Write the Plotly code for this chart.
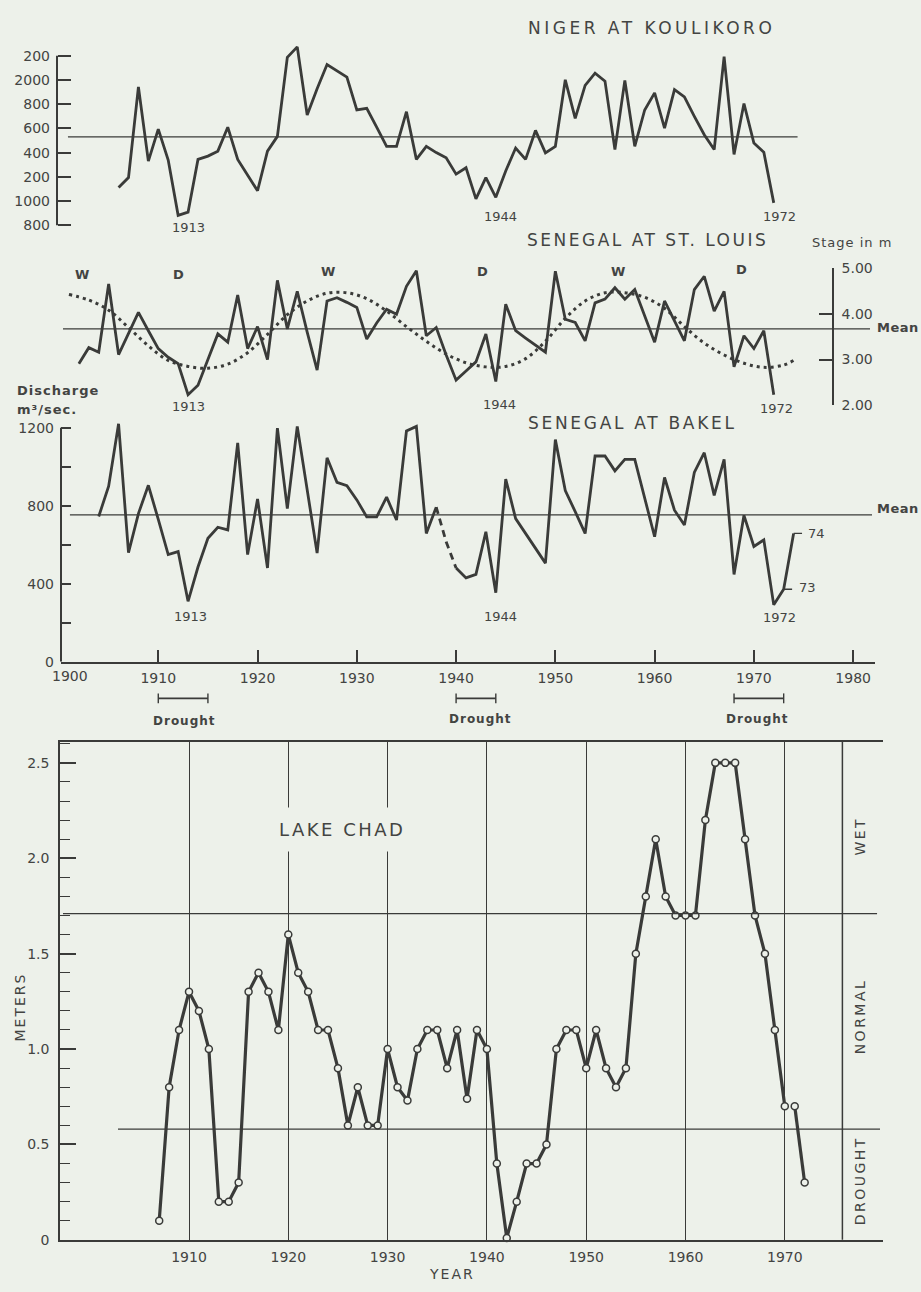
import plotly.graph_objects as go

W, H = 921, 1292
BG = "#edf1ea"
INK = "#3a3b39"
TXT = "#434442"
FONT = "DejaVu Sans"

# ---------------- data ----------------
niger_years = list(range(1906, 1973))
niger_flow = [1112, 1194, 1942, 1330, 1594, 1338, 882, 908, 1344, 1371,
              1412, 1610, 1344, 1215, 1085, 1412, 1534, 2186, 2273, 1711,
              1928, 2127, 2075, 2023, 1752, 1765, 1610, 1452, 1452, 1738,
              1344, 1452, 1400, 1357, 1222, 1275, 1018, 1194, 1031, 1248,
              1438, 1344, 1583, 1398, 1452, 2001, 1683, 1955, 2056, 1990,
              1425, 1996, 1452, 1752, 1893, 1602, 1920, 1860, 1700, 1548,
              1425, 2192, 1385, 1805, 1479, 1403, 985]
niger_mean = 1530
niger_tickvals = [800, 1000, 1200, 1400, 1600, 1800, 2000, 2200]
niger_ticktext = ["800", "1000", "200", "400", "600", "800", "2000", "200"]

stlouis_years = list(range(1902, 1973))
stlouis_stage = [2.91, 3.26, 3.16, 4.65, 3.11, 3.57, 4.03, 3.63, 3.24, 3.05,
                 2.91, 2.23, 2.44, 3.00, 3.56, 3.38, 4.41, 3.24, 3.72, 3.00,
                 4.73, 3.67, 4.49, 3.60, 2.77, 4.28, 4.35, 4.25, 4.14, 3.45,
                 3.80, 4.10, 3.99, 4.60, 4.94, 3.52, 3.70, 3.10, 2.55, 2.75,
                 2.95, 3.56, 2.52, 4.21, 3.63, 3.47, 3.32, 3.16, 4.93, 3.88,
                 3.81, 3.41, 4.24, 4.32, 4.57, 4.32, 4.53, 3.95, 3.38, 4.28,
                 3.85, 3.41, 4.53, 4.82, 4.06, 4.49, 2.84, 3.52, 3.24, 3.63,
                 2.23]
stlouis_mean = 3.67
trend_years = [1901, 1903, 1905, 1907, 1909, 1911, 1913, 1915, 1917, 1919,
               1921, 1923, 1925, 1927, 1929, 1931, 1933, 1935, 1937, 1939,
               1941, 1943, 1945, 1947, 1949, 1951, 1953, 1955, 1957, 1959,
               1961, 1963, 1965, 1967, 1969, 1971, 1973, 1974]
trend_stage = [4.42, 4.30, 4.08, 3.70, 3.30, 2.98, 2.85, 2.81, 2.90, 3.15,
               3.55, 3.98, 4.28, 4.45, 4.46, 4.33, 4.06, 3.72, 3.40, 3.12,
               2.93, 2.84, 2.85, 3.02, 3.40, 3.90, 4.28, 4.46, 4.46, 4.36,
               4.12, 3.72, 3.36, 3.10, 2.92, 2.83, 2.88, 2.98]
stlouis_ticks = [2, 3, 4, 5]
stlouis_ticktext = ["2.00", "3.00", "4.00", "5.00"]
wd_labels = ["W", "D", "W", "D", "W", "D"]
wd_years = [1902.3, 1912.0, 1927.1, 1942.7, 1956.3, 1968.8]

bakel_years = list(range(1904, 1975))
bakel_flow = [745, 900, 1220, 560, 760, 905, 730, 550, 565, 310,
              486, 633, 690, 676, 1122, 550, 835, 481, 1198, 785,
              1207, 880, 557, 1046, 920, 903, 830, 743, 743, 844,
              727, 1183, 1207, 658, 793, 615, 481, 430, 448, 667,
              354, 937, 734, 660, 583, 506, 1139, 878, 770, 658,
              1055, 1055, 979, 1038, 1038, 840, 641, 945, 777, 701,
              971, 1072, 853, 1038, 448, 751, 591, 625, 292, 372,
              658]
bakel_gap = (1938, 1940)          # estimated stretch, drawn dashed
bakel_mean = 753
bakel_tickvals = [0, 400, 800, 1200]
bakel_minor_step = 200

year_ticks = [1910, 1920, 1930, 1940, 1950, 1960, 1970, 1980]
drought_start = [1910, 1940, 1968]
drought_end = [1915, 1944, 1973]

chad_years = list(range(1907, 1973))
chad_level = [0.1, 0.8, 1.1, 1.3, 1.2, 1.0, 0.2, 0.2, 0.3, 1.3,
              1.4, 1.3, 1.1, 1.6, 1.4, 1.3, 1.1, 1.1, 0.9, 0.6,
              0.8, 0.6, 0.6, 1.0, 0.8, 0.73, 1.0, 1.1, 1.1, 0.9,
              1.1, 0.74, 1.1, 1.0, 0.4, 0.01, 0.2, 0.4, 0.4, 0.5,
              1.0, 1.1, 1.1, 0.9, 1.1, 0.9, 0.8, 0.9, 1.5, 1.8,
              2.1, 1.8, 1.7, 1.7, 1.7, 2.2, 2.5, 2.5, 2.5, 2.1,
              1.7, 1.5, 1.1, 0.7, 0.7, 0.3]
chad_break_after = 1970
chad_wet = 1.71
chad_drought = 0.58
chad_tickvals = [0, 0.5, 1.0, 1.5, 2.0, 2.5]
chad_ticktext = ["0", "0.5", "1.0", "1.5", "2.0", "2.5"]
chad_year_ticks = [1910, 1920, 1930, 1940, 1950, 1960, 1970]
chad_right_edge = 1975.8


def px(x):
    return x / W


def py(y):
    return 1 - y / H


fig = go.Figure()
line_style = dict(color=INK, width=2.8)

# Niger at Koulikoro
fig.add_trace(go.Scatter(x=niger_years, y=niger_flow, xaxis="x", yaxis="y2",
                         mode="lines", line=line_style, hoverinfo="skip"))
# Senegal at St. Louis
fig.add_trace(go.Scatter(x=trend_years, y=trend_stage, xaxis="x", yaxis="y3",
                         mode="lines", hoverinfo="skip",
                         line=dict(color=INK, width=3, dash="3px,4px", shape="spline")))
fig.add_trace(go.Scatter(x=stlouis_years, y=stlouis_stage, xaxis="x", yaxis="y3",
                         mode="lines", line=line_style, hoverinfo="skip"))
# Senegal at Bakel
g0 = bakel_years.index(bakel_gap[0])
g1 = bakel_years.index(bakel_gap[1])
fig.add_trace(go.Scatter(x=bakel_years[:g0 + 1], y=bakel_flow[:g0 + 1], xaxis="x", yaxis="y",
                         mode="lines", line=line_style, hoverinfo="skip"))
fig.add_trace(go.Scatter(x=bakel_years[g0:g1 + 1], y=bakel_flow[g0:g1 + 1], xaxis="x", yaxis="y",
                         mode="lines", hoverinfo="skip",
                         line=dict(color=INK, width=2.8, dash="7px,5px")))
fig.add_trace(go.Scatter(x=bakel_years[g1:], y=bakel_flow[g1:], xaxis="x", yaxis="y",
                         mode="lines", line=line_style, hoverinfo="skip"))

# Lake Chad
cb = chad_years.index(chad_break_after) + 1
for xs, ys in ((chad_years[:cb], chad_level[:cb]), (chad_years[cb:], chad_level[cb:])):
    fig.add_trace(go.Scatter(x=xs, y=ys, xaxis="x2", yaxis="y4", mode="lines+markers",
                             hoverinfo="skip", cliponaxis=False,
                             line=dict(color=INK, width=3.2),
                             marker=dict(symbol="circle", size=7, color=BG,
                                         line=dict(color=INK, width=1.5))))

tickfont = dict(family=FONT, size=14, color=TXT)

fig.update_layout(
    width=W, height=H,
    margin=dict(l=0, r=0, t=0, b=0),
    paper_bgcolor=BG, plot_bgcolor="rgba(0,0,0,0)",
    showlegend=False,
    font=dict(family=FONT, color=TXT),
    xaxis=dict(domain=[px(61), px(875)], range=[1900.2, 1982.2], anchor="y",
               showline=True, linecolor=INK, linewidth=2, ticks="inside", ticklen=12,
               tickwidth=1.6, tickcolor=INK, tickvals=year_ticks,
               ticktext=[str(v) for v in year_ticks], tickfont=tickfont,
               showgrid=False, zeroline=False, ticklabelstandoff=2),
    yaxis=dict(domain=[py(662), py(415)], range=[0, 1250.6], anchor="x",
               showline=False, ticks="inside", ticklen=10, tickwidth=1.6, tickcolor=INK,
               tickvals=bakel_tickvals, ticktext=[str(v) for v in bakel_tickvals],
               tickfont=tickfont, showgrid=False, zeroline=False, ticklabelstandoff=6,
               minor=dict(tick0=0, dtick=bakel_minor_step, ticks="inside", ticklen=10,
                          tickwidth=1.6, tickcolor=INK, showgrid=False)),
    yaxis2=dict(domain=[py(225), py(30)], range=[759.2, 2349.3], anchor="free",
                position=px(57), showline=False, ticks="inside", ticklen=13,
                tickwidth=1.6, tickcolor=INK, tickvals=niger_tickvals,
                ticktext=niger_ticktext, tickfont=tickfont, showgrid=False,
                zeroline=False, ticklabelstandoff=7),
    yaxis3=dict(domain=[py(402.3), py(263.3)], range=[2, 5], anchor="free",
                position=px(833), side="right", showline=True, linecolor=INK,
                linewidth=1.6, ticks="inside", ticklen=13, tickwidth=1.6, tickcolor=INK,
                tickvals=stlouis_ticks, ticktext=stlouis_ticktext, tickfont=tickfont,
                showgrid=False, zeroline=False, ticklabelstandoff=5),
    xaxis2=dict(domain=[px(60), px(883)], range=[1897.009, 1979.889], anchor="y4",
                showline=True, mirror=True, linecolor=INK, linewidth=1.6, ticks="",
                tickvals=chad_year_ticks, ticktext=[str(v) for v in chad_year_ticks],
                tickfont=tickfont, showgrid=True, gridcolor=INK, gridwidth=1.4,
                zeroline=False, ticklabelstandoff=4),
    yaxis4=dict(domain=[py(1247.3), py(742.7)], range=[0, 2.612], anchor="x2",
                showline=True, linecolor=INK, linewidth=1.6, ticks="inside", ticklen=16,
                tickwidth=1.5, tickcolor=INK, tickvals=chad_tickvals,
                ticktext=chad_ticktext, tickfont=tickfont, showgrid=False,
                zeroline=False, ticklabelstandoff=6,
                minor=dict(tick0=0, dtick=0.1, ticks="inside", ticklen=10,
                           tickwidth=1.3, tickcolor=INK, showgrid=False)),
)

shapes = []
thin = dict(color=INK, width=1.3)
# mean lines
shapes.append(dict(type="line", xref="x", yref="y2", x0=1900.9, x1=1974.4,
                   y0=niger_mean, y1=niger_mean, line=thin))
shapes.append(dict(type="line", xref="x", yref="y3", x0=1900.4, x1=1981.7,
                   y0=stlouis_mean, y1=stlouis_mean, line=thin))
shapes.append(dict(type="line", xref="x", yref="y", x0=1901.1, x1=1981.9,
                   y0=bakel_mean, y1=bakel_mean, line=thin))
# left axis lines (drawn as shapes so peaks above the top tick are not clipped)
shapes.append(dict(type="line", xref="paper", yref="y2", x0=px(57), x1=px(57),
                   y0=niger_tickvals[0], y1=niger_tickvals[-1], line=dict(color=INK, width=2)))
shapes.append(dict(type="line", xref="paper", yref="y", x0=px(61), x1=px(61),
                   y0=bakel_tickvals[0], y1=bakel_tickvals[-1], line=dict(color=INK, width=2)))
# 73 / 74 leader lines
for yr in (1973, 1974):
    v = bakel_flow[bakel_years.index(yr)]
    shapes.append(dict(type="line", xref="x", yref="y", x0=yr, x1=yr + 0.85,
                       y0=v, y1=v, line=dict(color=INK, width=1.3)))
# drought bars
for s, e in zip(drought_start, drought_end):
    shapes.append(dict(type="line", xref="x", yref="paper", x0=s, x1=e,
                       y0=py(699), y1=py(699), line=dict(color=INK, width=1.8)))
    for xx in (s, e):
        shapes.append(dict(type="line", xref="x", yref="paper", x0=xx, x1=xx,
                           y0=py(694), y1=py(704), line=dict(color=INK, width=1.4)))
# Lake Chad reference lines
shapes.append(dict(type="line", xref="x2", yref="y4", x0=1897.31, x1=1979.29,
                   y0=chad_wet, y1=chad_wet, line=dict(color=INK, width=1.3)))
shapes.append(dict(type="line", xref="x2", yref="y4", x0=1902.85, x1=1979.59,
                   y0=chad_drought, y1=chad_drought, line=dict(color=INK, width=1.3)))
shapes.append(dict(type="line", xref="x2", yref="y4 domain", x0=chad_right_edge,
                   x1=chad_right_edge, y0=0, y1=1, line=dict(color=INK, width=1.5)))
fig.update_layout(shapes=shapes)


def label(text, x, y, size=13, angle=0, xanchor="center", ls=0, bold=False,
          bg=None, pad=1):
    t = f"<b>{text}</b>" if bold else text
    if ls:
        t = f'<span style="letter-spacing:{ls}px">{t}</span>'
    d = dict(text=t, x=px(x), y=py(y), xref="paper", yref="paper", showarrow=False,
             font=dict(family=FONT, size=size, color=TXT), textangle=angle,
             xanchor=xanchor, yanchor="middle", borderpad=pad)
    if bg:
        d["bgcolor"] = bg
    return d


anns = [
    label("NIGER AT KOULIKORO", 651, 20, 17, ls=3.5),
    label("SENEGAL AT ST. LOUIS", 647, 235, 17, ls=2.5),
    label("SENEGAL AT BAKEL", 632, 420, 17, ls=2.7),
    label("Stage in m", 852, 237, 13, ls=1),
    label("Discharge", 15, 387, 13, xanchor="left", ls=1, bold=True),
    label("m³/sec.", 15, 407, 13, xanchor="left", ls=1, bold=True),
    label("Mean", 898, 323, 13, ls=0.5, bold=True),
    label("Mean", 898, 507, 13, ls=0.5, bold=True),
    label("1913", 188, 222.5, 13), label("1944", 500, 211, 13), label("1972", 779, 211, 13),
    label("1913", 188.5, 403.3, 13), label("1944", 499, 401.7, 13), label("1972", 776.7, 406, 13),
    label("1913", 190.3, 616.3, 13), label("1944", 500.7, 616, 13), label("1972", 779.7, 617.5, 13),
    label("73", 807, 587, 13), label("74", 816.7, 532, 13),
    label("1900", 70, 676, 14),
    label("LAKE CHAD", 341.7, 832, 18, ls=2.5, bg=BG, pad=11),
    label("WET", 860, 839, 14, angle=-90, ls=2.5),
    label("NORMAL", 860, 1021, 14, angle=-90, ls=2.5),
    label("DROUGHT", 860, 1188, 14, angle=-90, ls=2.5),
    label("METERS", 20, 1012, 14, angle=-90, ls=2),
    label("YEAR", 452, 1282, 14, ls=2),
]
for xx, yy in zip([184, 480, 757.5], [722, 720, 720]):
    anns.append(label("Drought", xx, yy, 12, ls=1, bold=True))
wd_y = [270, 270, 267, 267, 267, 265]
for t, yr, yy in zip(wd_labels, wd_years, wd_y):
    anns.append(label(t, 61 + (yr - 1900.2) * (814 / 82), yy, 13, bold=True))
fig.update_layout(annotations=anns)

fig.write_html("out.html", config={"displayModeBar": False},
               post_script="document.body.style.margin='0';document.body.style.overflow='hidden';")
